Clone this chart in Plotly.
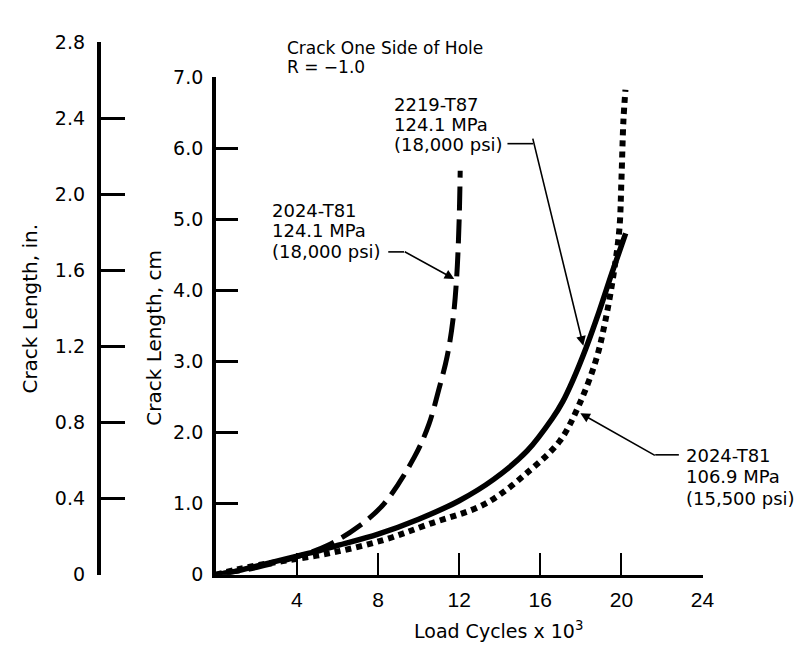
import plotly.graph_objects as go

W, H = 806, 654

# ---- data ----
# 2024-T81, 124.1 MPa (18,000 psi) -- dashed
cyc_2024_124 = [0, 2, 4, 5.5, 7.0, 8.3, 9.8, 10.5, 11.0, 11.4, 11.7, 11.88, 12.0, 12.05]
len_2024_124 = [0, 0.10, 0.25, 0.41, 0.67, 1.00, 1.66, 2.11, 2.61, 3.06, 3.60, 4.20, 5.0, 5.68]

# 2219-T87, 124.1 MPa (18,000 psi) -- solid
cyc_2219 = [0, 1, 2, 3, 4, 5, 6, 8, 10, 12, 13.7, 15.35, 16.6, 17.1, 17.6, 18.27, 18.9, 19.53, 20.21]
len_2219 = [0, 0.05, 0.12, 0.19, 0.26, 0.33, 0.41, 0.57, 0.78, 1.04, 1.34, 1.74, 2.20, 2.43, 2.73, 3.20, 3.70, 4.24, 4.80]

# 2024-T81, 106.9 MPa (15,500 psi) -- dotted
cyc_2024_107 = [0, 1, 2, 3.3, 5.75, 8.3, 10.5, 13.3, 15.5, 16.96, 17.9, 18.75, 19.2, 19.6, 19.9, 20.0, 20.1, 20.2]
len_2024_107 = [0, 0.07, 0.13, 0.19, 0.31, 0.49, 0.71, 1.00, 1.47, 1.88, 2.38, 3.02, 3.56, 4.20, 4.86, 5.54, 6.39, 6.82]

x_ticks = [4, 8, 12, 16, 20, 24]
cm_ticks = [0, 1, 2, 3, 4, 5, 6, 7]
cm_labels = ["0", "1.0", "2.0", "3.0", "4.0", "5.0", "6.0", "7.0"]
in_ticks = [0, 0.4, 0.8, 1.2, 1.6, 2.0, 2.4, 2.8]
in_labels = ["0", "0.4", "0.8", "1.2", "1.6", "2.0", "2.4", "2.8"]


def px(x):
    return x / W


def py(y):
    return 1 - y / H


WIDE = "DejaVu Sans, Verdana, sans-serif"
HELV = "Liberation Sans, Arial, sans-serif"

fig = go.Figure()
# invisible trace to attach the inch axis (drawn first so it sits below)
fig.add_trace(go.Scatter(x=[0], y=[0], yaxis="y2", mode="markers",
                         marker=dict(opacity=0), hoverinfo="skip", showlegend=False))
fig.add_trace(go.Scatter(x=cyc_2024_124, y=len_2024_124, mode="lines",
                         line=dict(color="black", width=5, dash="24px,9px", shape="spline"),
                         hoverinfo="skip", showlegend=False))
fig.add_trace(go.Scatter(x=cyc_2219, y=len_2219, mode="lines",
                         line=dict(color="black", width=5.5, shape="spline"),
                         hoverinfo="skip", showlegend=False))
fig.add_trace(go.Scatter(x=cyc_2024_107, y=len_2024_107, mode="lines",
                         line=dict(color="black", width=6, dash="6px,5px", shape="spline"),
                         hoverinfo="skip", showlegend=False))

x0, x1 = 211, 705
y_bot, y_top_cm, y_top_in = 575, 60, 24

fig.update_layout(
    width=W, height=H,
    margin=dict(l=0, r=0, t=0, b=0),
    paper_bgcolor="white", plot_bgcolor="rgba(0,0,0,0)",
    showlegend=False,
    xaxis=dict(domain=[px(x0), px(x1)], range=[0, 24], tickvals=x_ticks,
               showline=True, linecolor="black", linewidth=2.5,
               ticks="inside", ticklen=22, tickwidth=2, tickcolor="black",
               showgrid=False, zeroline=False, ticklabelstandoff=4,
               tickfont=dict(family=HELV, size=21, color="black"),
               anchor="y"),
    yaxis=dict(domain=[py(y_bot), py(y_top_cm)], range=[0, 7],
               tickvals=cm_ticks, ticktext=cm_labels,
               showline=True, linecolor="black", linewidth=3.5,
               ticks="inside", ticklen=22, tickwidth=2.5, tickcolor="black",
               showgrid=False, zeroline=False, ticklabelstandoff=5,
               tickfont=dict(family=WIDE, size=19, color="black"),
               anchor="x"),
    yaxis2=dict(domain=[py(y_bot), py(y_top_in)], range=[0, 2.8],
                tickvals=in_ticks, ticktext=in_labels,
                showline=True, linecolor="black", linewidth=3.5,
                ticks="inside", ticklen=25, tickwidth=2.5, tickcolor="black",
                showgrid=False, zeroline=False, ticklabelstandoff=8,
                tickfont=dict(family=WIDE, size=19, color="black"),
                anchor="free", position=px(92)),
)

ann = []
# axis titles
ann.append(dict(text="Crack Length, in.", x=px(22), y=py(300), xref="paper", yref="paper",
                xanchor="center", yanchor="middle",
                showarrow=False, textangle=-90, font=dict(family=WIDE, size=20, color="black")))
ann.append(dict(text="Crack Length, cm", x=px(148), y=py(330), xref="paper", yref="paper",
                xanchor="center", yanchor="middle",
                showarrow=False, textangle=-90, font=dict(family=WIDE, size=20, color="black")))
ann.append(dict(text="Load Cycles x 10<sup>3</sup>", x=px(498), y=py(632), xref="paper", yref="paper",
                xanchor="center", yanchor="middle",
                showarrow=False, font=dict(family=WIDE, size=19, color="black")))


# text lines (left aligned, vertically centred on given pixel row)
def line(text, x, yc, size=18):
    return dict(text=text, x=px(x), y=py(yc), xref="paper", yref="paper",
                xanchor="left", yanchor="middle", align="left", showarrow=False,
                font=dict(family=WIDE, size=size, color="black"))


ann.append(line("Crack One Side of Hole", 281, 30, 17))
ann.append(line("R = \u22121.0", 281, 50, 17))
for t, yc in zip(["2219-T87", "124.1 MPa", "(18,000 psi)"], [88, 109, 130]):
    ann.append(line(t, 390, yc))
for t, yc in zip(["2024-T81", "124.1 MPa", "(18,000 psi)"], [198, 219, 241]):
    ann.append(line(t, 266, yc))
for t, yc in zip(["2024-T81", "106.9 MPa", "(15,500 psi)"], [452, 473, 496]):
    ann.append(line(t, 686, yc))


# leader arrows: tip (tx,ty), tail (sx,sy)
def arrow(tx, ty, sx, sy):
    return dict(x=px(tx), y=py(ty), xref="paper", yref="paper", text=" ",
                showarrow=True, ax=sx - tx, ay=sy - ty, axref="pixel", ayref="pixel",
                arrowhead=2, arrowsize=1.2, arrowwidth=1.6, arrowcolor="black",
                font=dict(size=1))


ann.append(arrow(584, 338, 533, 129))
ann.append(arrow(453, 269, 402, 241))
ann.append(arrow(581, 408, 657, 451))
fig.update_layout(annotations=ann)


def seg(xa, ya, xb, yb):
    return dict(type="line", xref="paper", yref="paper", x0=px(xa), y0=py(ya), x1=px(xb), y1=py(yb),
                line=dict(color="black", width=1.6))


fig.update_layout(shapes=[seg(507, 129, 533, 129),
                          seg(386, 241, 402, 241),
                          seg(657, 451, 681, 451)])

fig.write_html("out.html")
